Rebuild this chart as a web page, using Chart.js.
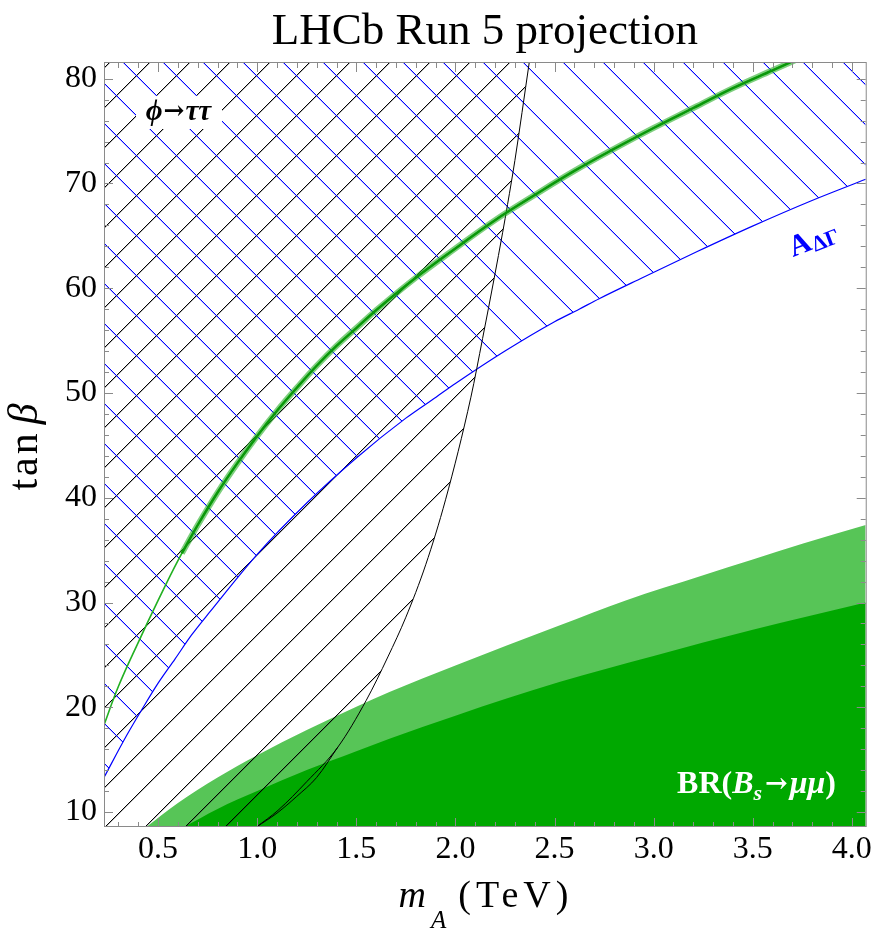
<!DOCTYPE html>
<html>
<head>
<meta charset="utf-8">
<title>LHCb Run 5 projection</title>
<script src="https://cdn.jsdelivr.net/npm/chart.js@4/dist/chart.umd.min.js"></script>
<style>
html, body { margin:0; padding:0; background:#ffffff; }
#wrap { position:relative; width:875px; height:932px; }
</style>
</head>
<body>
<div id="wrap"><canvas id="chart" width="875" height="932"></canvas></div>
<script>
// ---------------- data ----------------
const X_MIN = 0.227, X_MAX = 4.07;   // m_A (TeV)
const Y_MIN = 8.57,  Y_MAX = 81.5;   // tan beta

const xTickLabels = [0.5, 1.0, 1.5, 2.0, 2.5, 3.0, 3.5, 4.0];
const yTickLabels = [10, 20, 30, 40, 50, 60, 70, 80];
const xMinorTicks = [0.3,0.4,0.6,0.7,0.8,0.9,1.1,1.2,1.3,1.4,1.6,1.7,1.8,1.9,2.1,2.2,2.3,2.4,2.6,2.7,2.8,2.9,3.1,3.2,3.3,3.4,3.6,3.7,3.8,3.9];
const yMinorTicks = [12,14,16,18,22,24,26,28,32,34,36,38,42,44,46,48,52,54,56,58,62,64,66,68,72,74,76,78];

// A_DeltaGamma exclusion boundary (excluded above)
const massADG = [0.227,0.341,0.425,0.50,0.585,0.669,0.761,1.0,1.25,1.5,1.75,1.902,2.0,2.25,2.5,2.624,2.725,2.943,3.22,3.496,3.79,4.07];
const tanbADG = [13.3,17.3,20.0,22.3,24.6,26.9,29.1,34.6,39.5,43.8,47.6,49.6,50.9,54.0,56.8,58.0,59.0,61.0,63.5,65.9,68.3,70.4];

// phi -> tau tau exclusion boundary (excluded to the left)
const massPhi = [0.996,1.105,1.25,1.407,1.55,1.659,1.75,1.85,1.95,2.078,2.137,2.196,2.238,2.263,2.30,2.372];
const tanbPhi = [8.57,10.16,12.9,16.2,20.66,24.8,28.6,33.6,39.8,49.6,55.2,61.0,65.3,68.0,72.2,81.5];
// second (lower) branch of the phi -> tau tau contour near the bottom
const massPhiB = [0.996,1.10,1.20,1.30,1.407];
const tanbPhiB = [8.57,9.9,11.5,13.3,16.2];

// BR(Bs -> mu mu) regions (excluded below)
const massBRlight = [0.44,0.6,0.8,1.0,1.25,1.5,1.667,2.0,2.524,2.859,3.25,3.5,3.75,4.07];
const tanbBRlight = [8.57,10.87,13.3,15.42,17.82,20.05,21.45,23.98,27.8,30.2,32.6,34.1,35.6,37.4];
const massBRdark  = [0.63,0.8,1.0,1.25,1.5,1.667,2.0,2.524,3.0,3.5,4.07];
const tanbBRdark  = [8.57,10.3,12.0,14.0,15.8,17.0,19.2,22.4,24.9,27.4,30.0];

// green central curve (thin part and thicker band part)
const massH    = [0.227,0.3,0.4,0.5,0.6,0.7,0.8,0.9,1.0,1.1,1.2,1.3,1.4,1.5,1.6,1.8,2.0,2.2,2.4,2.6,2.8,3.0,3.2,3.4,3.6,3.8];
const tanbH    = [18.3,22.0,26.2,30.2,34.0,37.4,40.5,43.3,45.9,48.3,50.5,52.6,54.5,56.2,57.9,61.0,63.8,66.5,68.9,71.2,73.3,75.3,77.2,79.1,80.8,82.5];
const massBand = [0.62,0.7,0.8,0.9,1.0,1.1,1.2,1.3,1.4,1.5,1.6,1.8,2.0,2.2,2.4,2.6,2.8,3.0,3.2,3.4,3.6,3.8];
const tanbBand = [34.7,37.4,40.5,43.3,45.9,48.3,50.5,52.6,54.5,56.2,57.9,61.0,63.8,66.5,68.9,71.2,73.3,75.3,77.2,79.1,80.8,82.5];

// ---------------- helpers ----------------
const pts = (xs, ys) => xs.map((v, i) => ({x: v, y: ys[i]}));

// crisp 45-degree hatch tile
function makeHatch(rgb, upRight, size, offset) {
  const c = document.createElement('canvas');
  c.width = size; c.height = size;
  const g = c.getContext('2d');
  const img = g.createImageData(size, size);
  const put = (i, j, a) => {
    const k = 4 * (j * size + i);
    img.data[k] = rgb[0]; img.data[k+1] = rgb[1]; img.data[k+2] = rgb[2];
    img.data[k+3] = Math.max(img.data[k+3], a);
  };
  for (let i = 0; i < size; i++) {
    const j = upRight ? (size - 1 - i) : i;
    put(i, j, 255);
    put(i, (j + 1) % size, 70);
  }
  g.putImageData(img, 0, 0);
  const p = g.createPattern(c, 'repeat');
  p.setTransform(new DOMMatrix([1,0,0,1,offset,0]));
  return p;
}
const blackHatch = makeHatch([0,0,0], true, 40, 12);
const blueHatch  = makeHatch([0,0,255], false, 40, 21);

function drawParts(ctx, parts, x, y) {
  let cx = x;
  for (const p of parts) {
    ctx.font = p.font;
    ctx.letterSpacing = p.ls || '0px';
    cx += (p.gap || 0);
    ctx.fillText(p.t, cx, y + (p.dy || 0));
    cx += ctx.measureText(p.t).width;
  }
  ctx.letterSpacing = '0px';
  return cx - x;
}
function measureParts(ctx, parts) {
  let w = 0;
  for (const p of parts) { ctx.font = p.font; ctx.letterSpacing = p.ls || '0px'; w += (p.gap||0) + ctx.measureText(p.t).width; }
  ctx.letterSpacing = '0px';
  return w;
}

const SERIF = '"Liberation Serif", "Times New Roman", serif';
const ARROW = '"DejaVu Serif", "Liberation Serif", serif';

const decor = {
  id: 'decor',
  afterDatasetsDraw(chart) {
    const {ctx, chartArea: a, scales: {x, y}} = chart;
    ctx.save();
    // frame
    ctx.strokeStyle = '#8a8a8a'; ctx.lineWidth = 1;
    ctx.strokeRect(a.left + 0.5, a.top - 0.5, a.right - a.left, a.bottom - a.top);
    // ticks on all four sides, pointing inwards
    ctx.beginPath();
    const tx = (vals, len) => { for (const v of vals) { const p = Math.round(x.getPixelForValue(v)) + 0.5;
      ctx.moveTo(p, a.bottom); ctx.lineTo(p, a.bottom - len); ctx.moveTo(p, a.top); ctx.lineTo(p, a.top + len); } };
    const ty = (vals, len) => { for (const v of vals) { const p = Math.round(y.getPixelForValue(v)) + 0.5;
      ctx.moveTo(a.left, p); ctx.lineTo(a.left + len, p); ctx.moveTo(a.right, p); ctx.lineTo(a.right - len, p); } };
    tx(xMinorTicks, 5); tx(xTickLabels, 9); ty(yMinorTicks, 5); ty(yTickLabels, 9);
    ctx.stroke();

    // phi -> tau tau label with white box
    ctx.fillStyle = '#ffffff';
    ctx.fillRect(136, 96, 86, 33);
    ctx.fillStyle = '#000000';
    ctx.textBaseline = 'alphabetic'; ctx.textAlign = 'left';
    const phiParts = [
      {t:'\u03D5', font:'italic bold 29px ' + SERIF},
      {t:'\u2192', font:'bold 25px ' + ARROW, gap:1, dy:-1},
      {t:'\u03C4\u03C4', font:'italic bold 29px ' + SERIF, gap:1}
    ];
    const pw = measureParts(ctx, phiParts);
    drawParts(ctx, phiParts, 178.5 - pw / 2, 120);

    // A_DeltaGamma label
    ctx.save();
    ctx.fillStyle = '#0000ff';
    ctx.translate(793, 257);
    ctx.rotate(-21 * Math.PI / 180);
    drawParts(ctx, [{t:'A', font:'bold 30px ' + SERIF}, {t:'\u0394\u0393', font:'bold 22px ' + SERIF, dy:3, gap:1}], 0, 0);
    ctx.restore();

    // BR(Bs -> mu mu) label
    ctx.fillStyle = '#ffffff';
    const br = [
      {t:'BR(', font:'bold 32px ' + SERIF},
      {t:'B', font:'italic bold 32px ' + SERIF},
      {t:'s', font:'italic bold 22px ' + SERIF, dy:7},
      {t:'\u2192', font:'bold 27px ' + ARROW, gap:3, dy:-1},
      {t:'\u03BC\u03BC', font:'italic bold 32px ' + SERIF, gap:2},
      {t:')', font:'bold 32px ' + SERIF}
    ];
    const bw = measureParts(ctx, br);
    drawParts(ctx, br, 756.5 - bw / 2, 793);
    ctx.restore();
  },
  afterDraw(chart) {
    const {ctx, chartArea: a} = chart;
    ctx.save();
    ctx.fillStyle = '#000000';
    ctx.textBaseline = 'alphabetic';
    // title
    ctx.textAlign = 'center';
    ctx.font = '45px ' + SERIF;
    ctx.fillText('LHCb Run 5 projection', (a.left + a.right) / 2, 44);
    ctx.textAlign = 'left';
    // x-axis title  m_A (TeV)
    const xt = [
      {t:'m', font:'italic 38px ' + SERIF},
      {t:'A', font:'italic 25px ' + SERIF, dy:21, gap:5},
      {t:'(TeV)', font:'38px ' + SERIF, gap:12, ls:'5px'}
    ];
    const xw = measureParts(ctx, xt);
    drawParts(ctx, xt, 486 - xw / 2, 907);
    // y-axis title  tan beta
    ctx.save();
    ctx.translate(37, 0);
    ctx.rotate(-Math.PI / 2);
    const yt = [
      {t:'tan', font:'42px ' + SERIF, ls:'3px'},
      {t:'\u03B2', font:'italic 42px ' + SERIF, gap:6}
    ];
    const yw = measureParts(ctx, yt);
    drawParts(ctx, yt, -447 - yw / 2, 0);
    ctx.restore();
    ctx.restore();
  }
};

const common = {pointRadius: 0, pointHoverRadius: 0, cubicInterpolationMode: 'monotone', clip: 0};
const smooth = {pointRadius: 0, pointHoverRadius: 0, cubicInterpolationMode: 'default', tension: 0.4, clip: 0};

const datasets = [
  {...smooth, label:'band core', data: pts(massBand, tanbBand), borderColor:'#0a980a', borderWidth:2.4, fill:false},
  {...smooth, label:'band halo', data: pts(massBand, tanbBand), borderColor:'rgba(40,175,40,0.6)', borderWidth:6, fill:false},
  {...smooth, label:'central', data: pts(massH, tanbH), borderColor:'#22b022', borderWidth:1.6, fill:false},
  {...common, label:'phi B', data: pts(massPhiB, tanbPhiB), borderColor:'#000000', borderWidth:1, fill:false},
  {...common, label:'phi', data: pts(massPhi, tanbPhi), borderColor:'#000000', borderWidth:1, fill:false},
  {...common, label:'A_DG', data: pts(massADG, tanbADG), borderColor:'#0000ff', borderWidth:1.2, fill:'end', backgroundColor: blueHatch},
  {...common, label:'phi region', data: pts([X_MIN, ...massPhi], [Y_MIN, ...tanbPhi]), borderColor:'rgba(0,0,0,0)', borderWidth:0, fill:'end', backgroundColor: blackHatch},
  {...common, label:'BR dark', data: pts(massBRdark, tanbBRdark), borderColor:'rgba(0,0,0,0)', borderWidth:0, fill:'start', backgroundColor:'#00a800'},
  {...common, label:'BR light', data: pts(massBRlight, tanbBRlight), borderColor:'rgba(0,0,0,0)', borderWidth:0, fill:'start', backgroundColor:'#57c557'}
];

Chart.defaults.font.family = SERIF;
Chart.defaults.color = '#000000';

new Chart(document.getElementById('chart'), {
  type: 'line',
  data: {datasets},
  options: {
    responsive: false,
    animation: false,
    events: [],
    layout: {padding: {top: 63, right: 8, bottom: 0, left: 0}},
    plugins: {legend: {display: false}, tooltip: {enabled: false}, title: {display: false}},
    scales: {
      x: {
        type: 'linear', min: X_MIN, max: X_MAX,
        afterBuildTicks: s => { s.ticks = xTickLabels.map(v => ({value: v})); },
        afterFit: s => { s.height = 105; },
        grid: {display: false, drawTicks: false},
        border: {display: false},
        ticks: {autoSkip: false, maxRotation: 0, minRotation: 0, padding: 3, color: '#000',
                font: {family: SERIF, size: 32}, callback: v => Number(v).toFixed(1)}
      },
      y: {
        type: 'linear', min: Y_MIN, max: Y_MAX,
        afterBuildTicks: s => { s.ticks = yTickLabels.map(v => ({value: v})); },
        afterFit: s => { s.width = 104; },
        grid: {display: false, drawTicks: false},
        border: {display: false},
        ticks: {autoSkip: false, padding: 7, color: '#000',
                font: {family: SERIF, size: 32}, callback: v => String(v)}
      }
    }
  },
  plugins: [decor]
});
</script>
</body>
</html>
